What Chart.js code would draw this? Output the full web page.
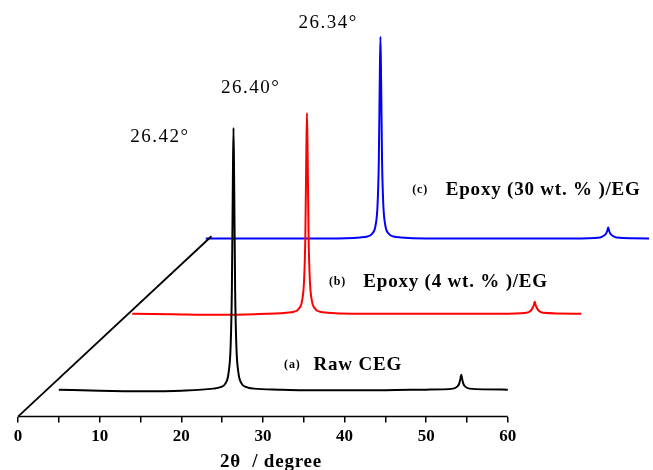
<!DOCTYPE html>
<html>
<head>
<meta charset="utf-8">
<script src="https://cdn.jsdelivr.net/npm/chart.js@4.4.0/dist/chart.umd.min.js"></script>
<style>
  html, body { margin: 0; padding: 0; background: #fff; }
  #xrd { display: block; }
</style>
</head>
<body>
<canvas id="xrd" width="653" height="470"></canvas>
<script>
// 2θ grid shared by the three patterns (degrees)
const twoTheta = [5, 10, 15, 20, 23.9, 24.8, 25.4, 25.8, 26.05, 26.2, 26.32, 26.4, 26.48, 26.6, 26.75, 27.0, 27.4, 28.0, 28.9, 32, 35, 40, 45, 50, 53.3, 53.8, 54.05, 54.2, 54.3, 54.4, 54.55, 54.8, 55.3, 60];

// intensities (a.u.)
const rawCEG   = [0, -1, -1.5, -1, 1, 2.5, 6, 17, 44, 100, 208, 262, 208, 100, 44, 17, 6, 2.5, 1, 0, -0.5, -0.5, -0.5, 0, 1, 3, 6, 11, 15, 11, 6, 3, 1, 0];
const epoxy4   = [0, -0.5, -1, -0.5, 1, 2, 5, 13, 34, 77, 160, 201, 160, 77, 34, 13, 5, 2, 1, 0, 0, 0, 0, 0, 1, 3, 6, 9, 12, 9, 6, 3, 1, 0];
const epoxy30  = [0, 0, 0, 0, 1, 2, 5, 13, 34, 77, 160, 202, 160, 77, 34, 13, 5, 2, 1, 0, 0, 0, 0, 0, 1, 3, 5, 8, 11, 8, 5, 3, 1, 0];

const seriesNames = ['(a)', '(b)', '(c)'];
const seriesTitles = ['Raw CEG', 'Epoxy (4 wt. % )/EG', 'Epoxy (30 wt. % )/EG'];
const peakLabels = ['26.42°', '26.40°', '26.34°'];
const xTitle = '2θ  / degree';

// stacking of the pseudo-3D plot: shift along 2θ and intensity
const shiftX = [0, 9, 18];
const shiftY = [27, 103, 178.3];

const xTicks = [0, 10, 20, 30, 40, 50, 60];
const colors = ['#000000', '#ff0000', '#0000ff'];

function pattern(vals, i) {
    return twoTheta.map((t, k) => ({ x: t + shiftX[i], y: vals[k] + shiftY[i] }));
}

const textPlugin = {
    id: 'textPlugin',
    afterDatasetsDraw(chart) {
        const ctx = chart.ctx;
        const x = chart.scales.x;
        const y = chart.scales.y;
        ctx.save();
        ctx.fillStyle = '#000';
        ctx.textBaseline = 'middle';

        // peak position labels
        ctx.font = '19px "Liberation Serif"';
        ctx.textAlign = 'center';
        ctx.letterSpacing = '1.5px';
        const peakPos = [[17.4, 280], [28.5, 329], [38.0, 394]];
        peakLabels.forEach((txt, i) => {
            ctx.fillText(txt, x.getPixelForValue(peakPos[i][0]), y.getPixelForValue(peakPos[i][1]));
        });

        // series names
        ctx.textAlign = 'left';
        ctx.letterSpacing = '0.8px';
        const tagPos = [[32.6, 52], [38.1, 135], [48.3, 227]];
        const namePos = [[36.2, 52], [42.3, 135], [52.4, 227]];
        seriesNames.forEach((txt, i) => {
            ctx.font = 'bold 12px "Liberation Serif"';
            ctx.fillText(txt, x.getPixelForValue(tagPos[i][0]), y.getPixelForValue(tagPos[i][1]));
            ctx.font = 'bold 19px "Liberation Serif"';
            ctx.fillText(seriesTitles[i], x.getPixelForValue(namePos[i][0]), y.getPixelForValue(namePos[i][1]));
        });

        // axis title
        ctx.textAlign = 'center';
        ctx.font = 'bold 19px "Liberation Serif"';
        ctx.fillText(xTitle, x.getPixelForValue(31), x.bottom + 11);
        ctx.restore();
    }
};

new Chart(document.getElementById('xrd'), {
    type: 'line',
    data: {
        datasets: [
            {
                data: [{ x: 0, y: 0 }, { x: 60, y: 0 }],
                borderColor: '#000',
                borderWidth: 1.5,
                clip: false
            },
            {
                data: [{ x: 0, y: 0 }, { x: 23.7, y: 180.5 }],
                borderColor: '#000',
                borderWidth: 1.8,
                clip: false
            },
            {
                data: pattern(rawCEG, 0),
                borderColor: colors[0],
                borderWidth: 2,
                cubicInterpolationMode: 'monotone'
            },
            {
                data: pattern(epoxy4, 1),
                borderColor: colors[1],
                borderWidth: 2,
                cubicInterpolationMode: 'monotone'
            },
            {
                data: pattern(epoxy30, 2),
                borderColor: colors[2],
                borderWidth: 2,
                cubicInterpolationMode: 'monotone'
            }
        ]
    },
    options: {
        responsive: false,
        animation: false,
        layout: { padding: { left: 18, right: 0, top: 17, bottom: 19 } },
        elements: { point: { radius: 0 } },
        plugins: {
            legend: { display: false },
            tooltip: { enabled: false }
        },
        scales: {
            x: {
                type: 'linear',
                min: 0,
                max: 77.3,
                border: { display: false },
                grid: {
                    drawOnChartArea: false,
                    drawTicks: true,
                    tickLength: 6,
                    color: (c) => (c.tick && c.tick.value <= 60 ? '#000' : 'rgba(0,0,0,0)'),
                    lineWidth: 1.5
                },
                ticks: {
                    stepSize: 5,
                    autoSkip: false,
                    maxRotation: 0,
                    padding: 4,
                    color: '#000',
                    font: { family: 'Liberation Serif', size: 17, weight: 'bold', lineHeight: 1.2 },
                    callback: (v) => (xTicks.includes(v) ? String(v) : '')
                }
            },
            y: {
                display: false,
                min: 0,
                max: 400
            }
        }
    },
    plugins: [textPlugin]
});
</script>
</body>
</html>
